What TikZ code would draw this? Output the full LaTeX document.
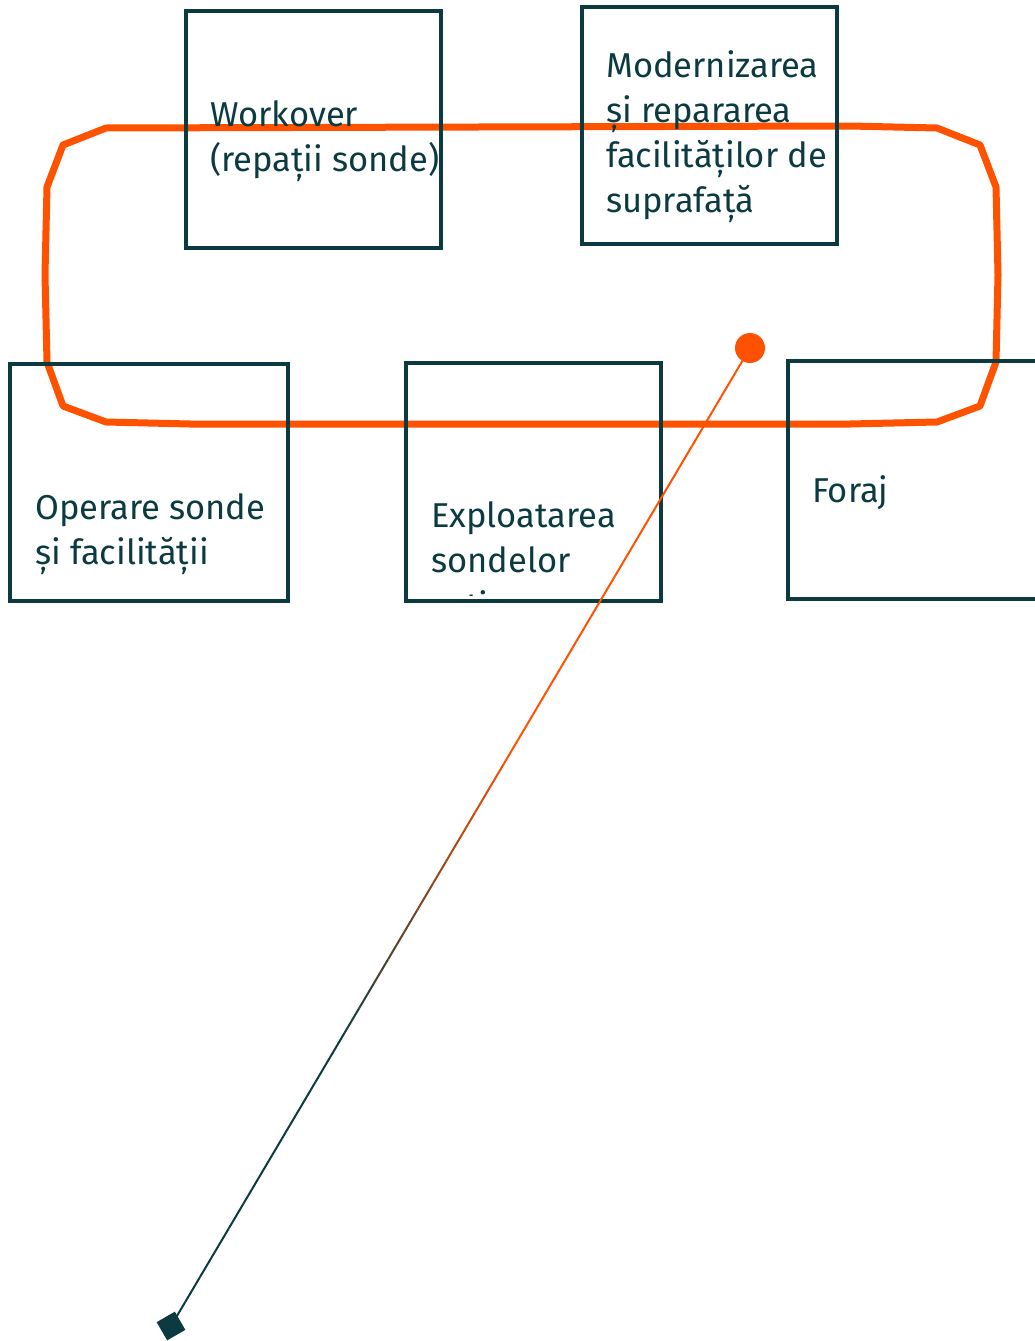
\documentclass[tikz,border=0pt]{standalone}
\usepackage{fontspec}
\setmainfont{Fira Sans}
\usetikzlibrary{calc}
\definecolor{darkteal}{HTML}{0B3B40}
\definecolor{flame}{HTML}{FF5200}
\tikzset{
  box/.style={draw=darkteal, line width=3.5pt, minimum width=255pt, minimum height=237pt, anchor=north west},
  lbl/.style={anchor=north west, inner sep=0pt, align=left, text=darkteal, font=\fontsize{34.5}{45}\selectfont},
}
\begin{document}
\begin{tikzpicture}[x=1pt, y=-1pt]
\useasboundingbox (0,0) rectangle (1035,1341);
% work loop
\draw [flame, line width=7pt, line join=round] (106,128) -- (850,126) -- (937,128) -- (980,145) -- (996,187) -- (998,275) -- (996,362) -- (980,406) -- (937,422) -- (850,424) -- (190,424) -- (106,422) -- (63,406) -- (47,362) -- (45,275) -- (47,187) -- (63,145) -- cycle;
% boxes
\node [box] (workover) at (184,9) {};
\node [box] (modern) at (580,5) {};
\node [box, minimum width=278pt] (operare) at (8,362) {};
\node [box, minimum height=238pt] (exploatare) at (404,361) {};
\node [box, minimum width=270pt, minimum height=238pt] (foraj) at (786,359) {};
% texts
\node [lbl] (workover text) at (210,100) {Workover\\(repații sonde)};
\node [lbl] (modern text) at (606,50) {Modernizarea\\și repararea\\facilităților de\\suprafață};
\node [lbl] (operare text) at (35,493) {Operare sonde\\și facilității};
\begin{scope}
\clip (404,361) rectangle (660,595);
\node [lbl] (exploatare text) at (431,501) {Exploatarea\\sondelor\\active};
\end{scope}
\node [lbl] (foraj text) at (812,475) {Foraj};
% pointer
\node [circle, fill=flame, minimum size=30pt, inner sep=0pt] (dot) at (750,348) {};
\node [rectangle, fill=darkteal, minimum size=21pt, inner sep=0pt, rotate=30] (tip) at (171,1326) {};
\foreach \i [evaluate=\i as \pct using {int(max(0,min(100,100*(28-\i)/12)))}] in {0,...,39}
  \draw [line width=2pt, color=flame!\pct!darkteal] ($(dot.center)!\i/40!(tip.center)$) -- ($(dot.center)!{(\i+1)/40}!(tip.center)$);
\end{tikzpicture}
\end{document}
